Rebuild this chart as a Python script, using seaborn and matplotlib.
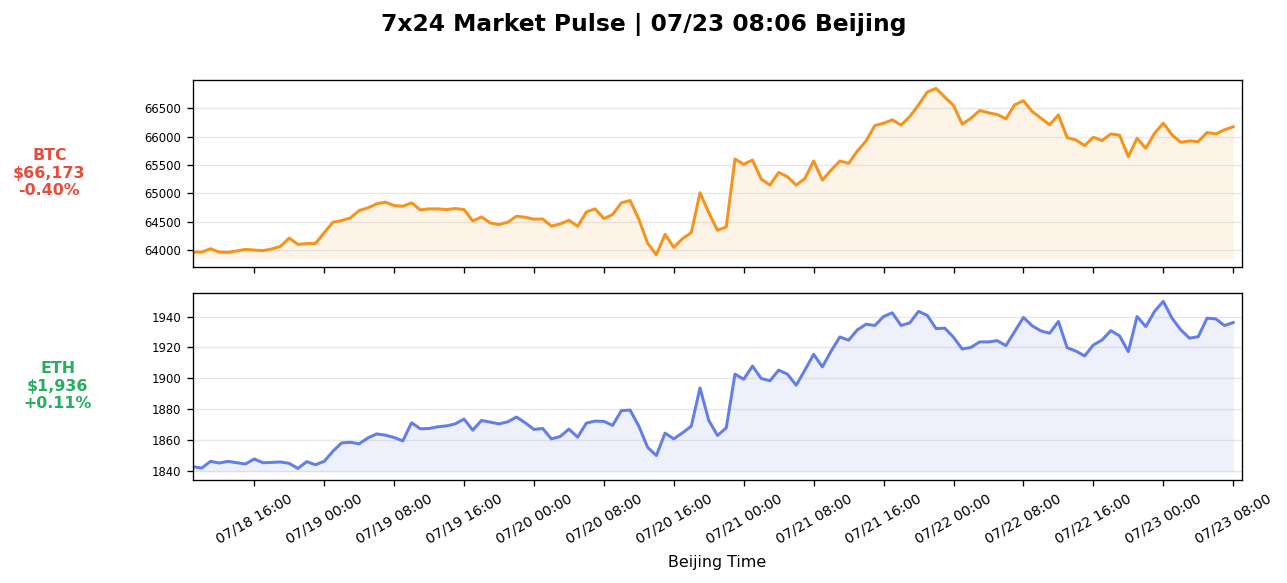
import pandas as pd
import seaborn as sns
import matplotlib
matplotlib.use("Agg")
import matplotlib.pyplot as plt
import matplotlib.dates as mdates

# hourly closes, Beijing time
times = pd.date_range("2024-07-18 09:00", periods=120, freq="h")

btc_close = [
    63970, 63970, 64029, 63970, 63965, 63990, 64018, 64005, 63995, 64025,
    64070, 64217, 64105, 64120, 64120, 64310, 64494, 64523, 64570, 64700,
    64747, 64817, 64847, 64788, 64776, 64835, 64711, 64729, 64729, 64717,
    64735, 64717, 64517, 64588, 64482, 64453, 64494, 64600, 64582, 64547,
    64553, 64425, 64465, 64529, 64423, 64676, 64729, 64559, 64629, 64835,
    64876, 64547, 64129, 63924, 64282, 64053, 64206, 64312, 65011, 64664,
    64353, 64412, 65605, 65511, 65588, 65252, 65147, 65370, 65294, 65147,
    65264, 65570, 65235, 65411, 65570, 65529, 65746, 65923, 66193, 66234,
    66293, 66200, 66352, 66558, 66781, 66846, 66693, 66546, 66217, 66323,
    66458, 66417, 66387, 66311, 66558, 66628, 66440, 66323, 66205, 66381,
    65982, 65940, 65840, 65988, 65929, 66046, 66023, 65646, 65970, 65793,
    66058, 66234, 66029, 65899, 65923, 65911, 66070, 66046, 66117, 66173,
]

eth_close = [
    1843.0, 1842.2, 1846.5, 1845.4, 1846.5, 1845.6, 1844.8, 1848.0, 1845.6, 1845.8,
    1846.1, 1845.2, 1841.9, 1846.3, 1844.3, 1846.5, 1853.0, 1858.4, 1858.8, 1857.8,
    1861.6, 1864.2, 1863.4, 1861.9, 1859.7, 1871.4, 1867.5, 1867.7, 1868.8, 1869.4,
    1870.7, 1873.8, 1866.6, 1872.9, 1871.8, 1870.7, 1872.0, 1875.1, 1871.4, 1867.1,
    1867.7, 1861.0, 1862.5, 1867.3, 1862.1, 1871.2, 1872.5, 1872.3, 1869.7, 1879.2,
    1879.6, 1869.2, 1855.6, 1850.2, 1864.7, 1861.0, 1864.9, 1869.2, 1893.9, 1872.9,
    1863.2, 1868.1, 1902.8, 1899.5, 1908.0, 1900.0, 1898.5, 1905.4, 1902.8, 1895.6,
    1905.4, 1915.6, 1907.5, 1917.7, 1926.8, 1924.7, 1931.4, 1935.0, 1934.2, 1940.0,
    1942.4, 1934.2, 1935.9, 1943.3, 1940.7, 1932.2, 1932.5, 1926.6, 1919.0, 1920.1,
    1923.6, 1923.6, 1924.4, 1921.2, 1930.3, 1939.4, 1934.0, 1930.7, 1929.2, 1936.8,
    1919.9, 1917.7, 1914.5, 1921.6, 1924.9, 1930.9, 1927.5, 1917.3, 1940.0, 1933.5,
    1943.3, 1949.8, 1938.9, 1931.4, 1926.0, 1927.0, 1938.9, 1938.5, 1934.2, 1936.1,
]

symbols = ["BTC", "ETH"]
last_prices = ["$66,173", "$1,936"]
changes = ["-0.40%", "+0.11%"]

line_colors = ["#f7931a", "#627eea"]
label_colors = ["#e74c3c", "#27ae60"]
label_x = [-0.137, -0.129]

df = pd.DataFrame({"time": times, "BTC": btc_close, "ETH": eth_close})

fig, axes = plt.subplots(2, 1, sharex=True, figsize=(1287 / 120, 583 / 120), dpi=120)
fig.subplots_adjust(left=0.150, right=0.965, top=0.863, bottom=0.177, hspace=0.139)

for i, ax in enumerate(axes):
    sym = symbols[i]
    sns.lineplot(data=df, x="time", y=sym, ax=ax, color=line_colors[i], linewidth=1.8)
    floor = df[sym].min() * 0.999
    ax.fill_between(df["time"], df[sym], floor, color=line_colors[i], alpha=0.1, linewidth=0)
    ax.grid(axis="y", alpha=0.3)
    ax.set_ylabel("")
    ax.set_xlabel("")
    ax.tick_params(axis="y", labelsize=7)
    ax.text(label_x[i], 0.5, f"{sym}\n{last_prices[i]}\n{changes[i]}",
            transform=ax.transAxes, ha="center", va="center", fontsize=9.5,
            fontweight="bold", color=label_colors[i])

ax2 = axes[1]
ax2.set_xlim(times[0], times[-1] + pd.Timedelta(hours=1))
ax2.xaxis.set_major_locator(mdates.HourLocator(byhour=[0, 8, 16]))
ax2.xaxis.set_major_formatter(mdates.DateFormatter("%m/%d %H:%M"))
plt.setp(ax2.get_xticklabels(), rotation=30, ha="center", fontsize=8.5)
ax2.set_xlabel("Beijing Time", fontsize=9.5, labelpad=5)

fig.suptitle("7x24 Market Pulse | 07/23 08:06 Beijing", fontsize=14, fontweight="bold", y=0.978)

fig.savefig("out.png", dpi=120)
